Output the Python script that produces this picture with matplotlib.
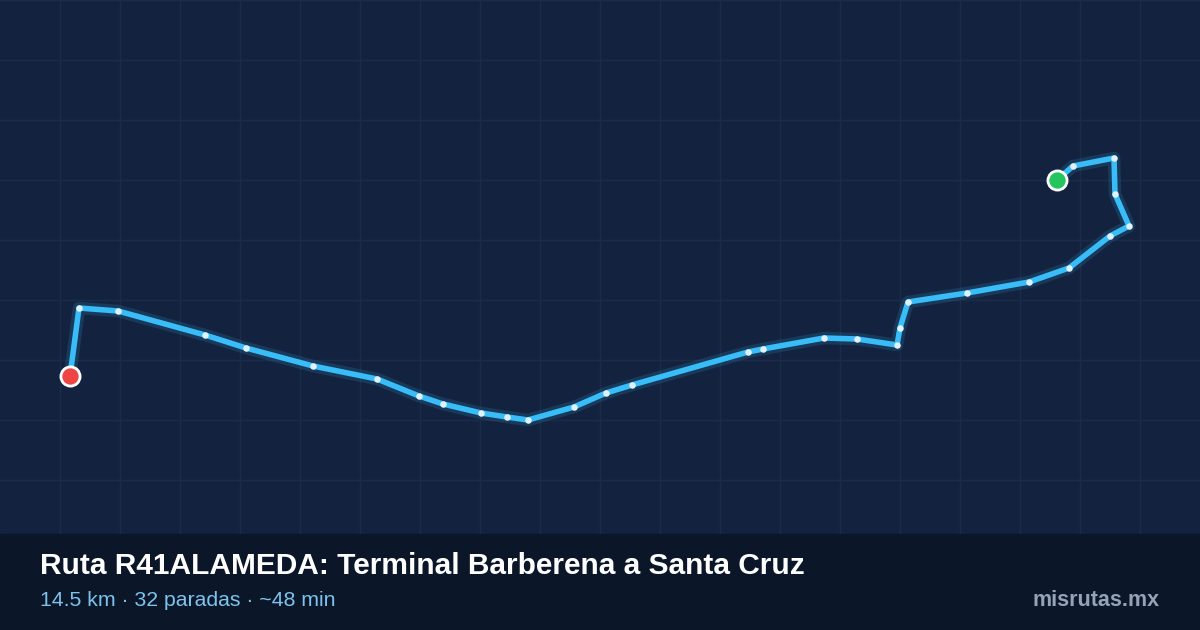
import matplotlib
matplotlib.use("Agg")
import matplotlib.pyplot as plt
from matplotlib.patches import Rectangle

route_x = [70, 79, 118, 205, 246, 313, 377, 419, 443, 481, 507, 528, 574, 606, 632, 748, 763, 824, 857, 897, 900, 908, 967, 1029, 1069, 1110, 1129, 1115, 1114, 1073, 1057]
route_y = [376, 308, 311, 335, 348, 366, 379, 396, 404, 413, 417, 420, 407, 393, 385, 352, 349, 338, 339, 345, 328, 302, 293, 282, 268, 236, 226, 194, 158, 166, 180]
title = "Ruta R41ALAMEDA: Terminal Barberena a Santa Cruz"
subtitle = "14.5 km · 32 paradas · ~48 min"
brand = "misrutas.mx"

fig = plt.figure(figsize=(12, 6.3), dpi=100)
fig.patch.set_facecolor("#13233f")
ax = fig.add_axes([0, 0, 1, 1])
ax.set_xlim(0, 1200)
ax.set_ylim(630, 0)
ax.axis("off")
for gx in range(60, 1200, 60):
    ax.plot([gx, gx], [0, 534], color="#1a2c4a", lw=1, zorder=1)
for gy in range(0, 534, 60):
    ax.plot([0, 1200], [gy, gy], color="#1a2c4a", lw=1, zorder=1)

ax.plot(route_x, route_y, color="#38bdf8", lw=9, alpha=0.15, solid_capstyle="round", zorder=2)
ax.plot(route_x, route_y, color="#38bdf8", lw=4, solid_capstyle="round", solid_joinstyle="round", zorder=3)
ax.scatter(route_x[1:-1], route_y[1:-1], s=22, color="#e0f2fe", zorder=4, linewidths=0)
ax.scatter([route_x[0]], [route_y[0]], s=190, color="#ef4444", edgecolors="white", linewidths=2, zorder=5)
ax.scatter([route_x[-1]], [route_y[-1]], s=190, color="#22c55e", edgecolors="white", linewidths=2, zorder=5)

ax.add_patch(Rectangle((0, 534), 1200, 96, color="#0b1628", zorder=6))
ax.text(40, 566, title, color="white", fontsize=21.5, fontweight="bold", va="center", family="Liberation Sans", zorder=7)
ax.text(40, 601, subtitle, color="#7dc3ee", fontsize=15.3, va="center", family="Liberation Sans", zorder=7)
ax.text(1160, 601, brand, color="#94a3b8", fontsize=15.5, fontweight="bold", va="center", ha="right", family="Liberation Sans", zorder=7)
fig.savefig("out.png", dpi=100, facecolor=fig.get_facecolor())
